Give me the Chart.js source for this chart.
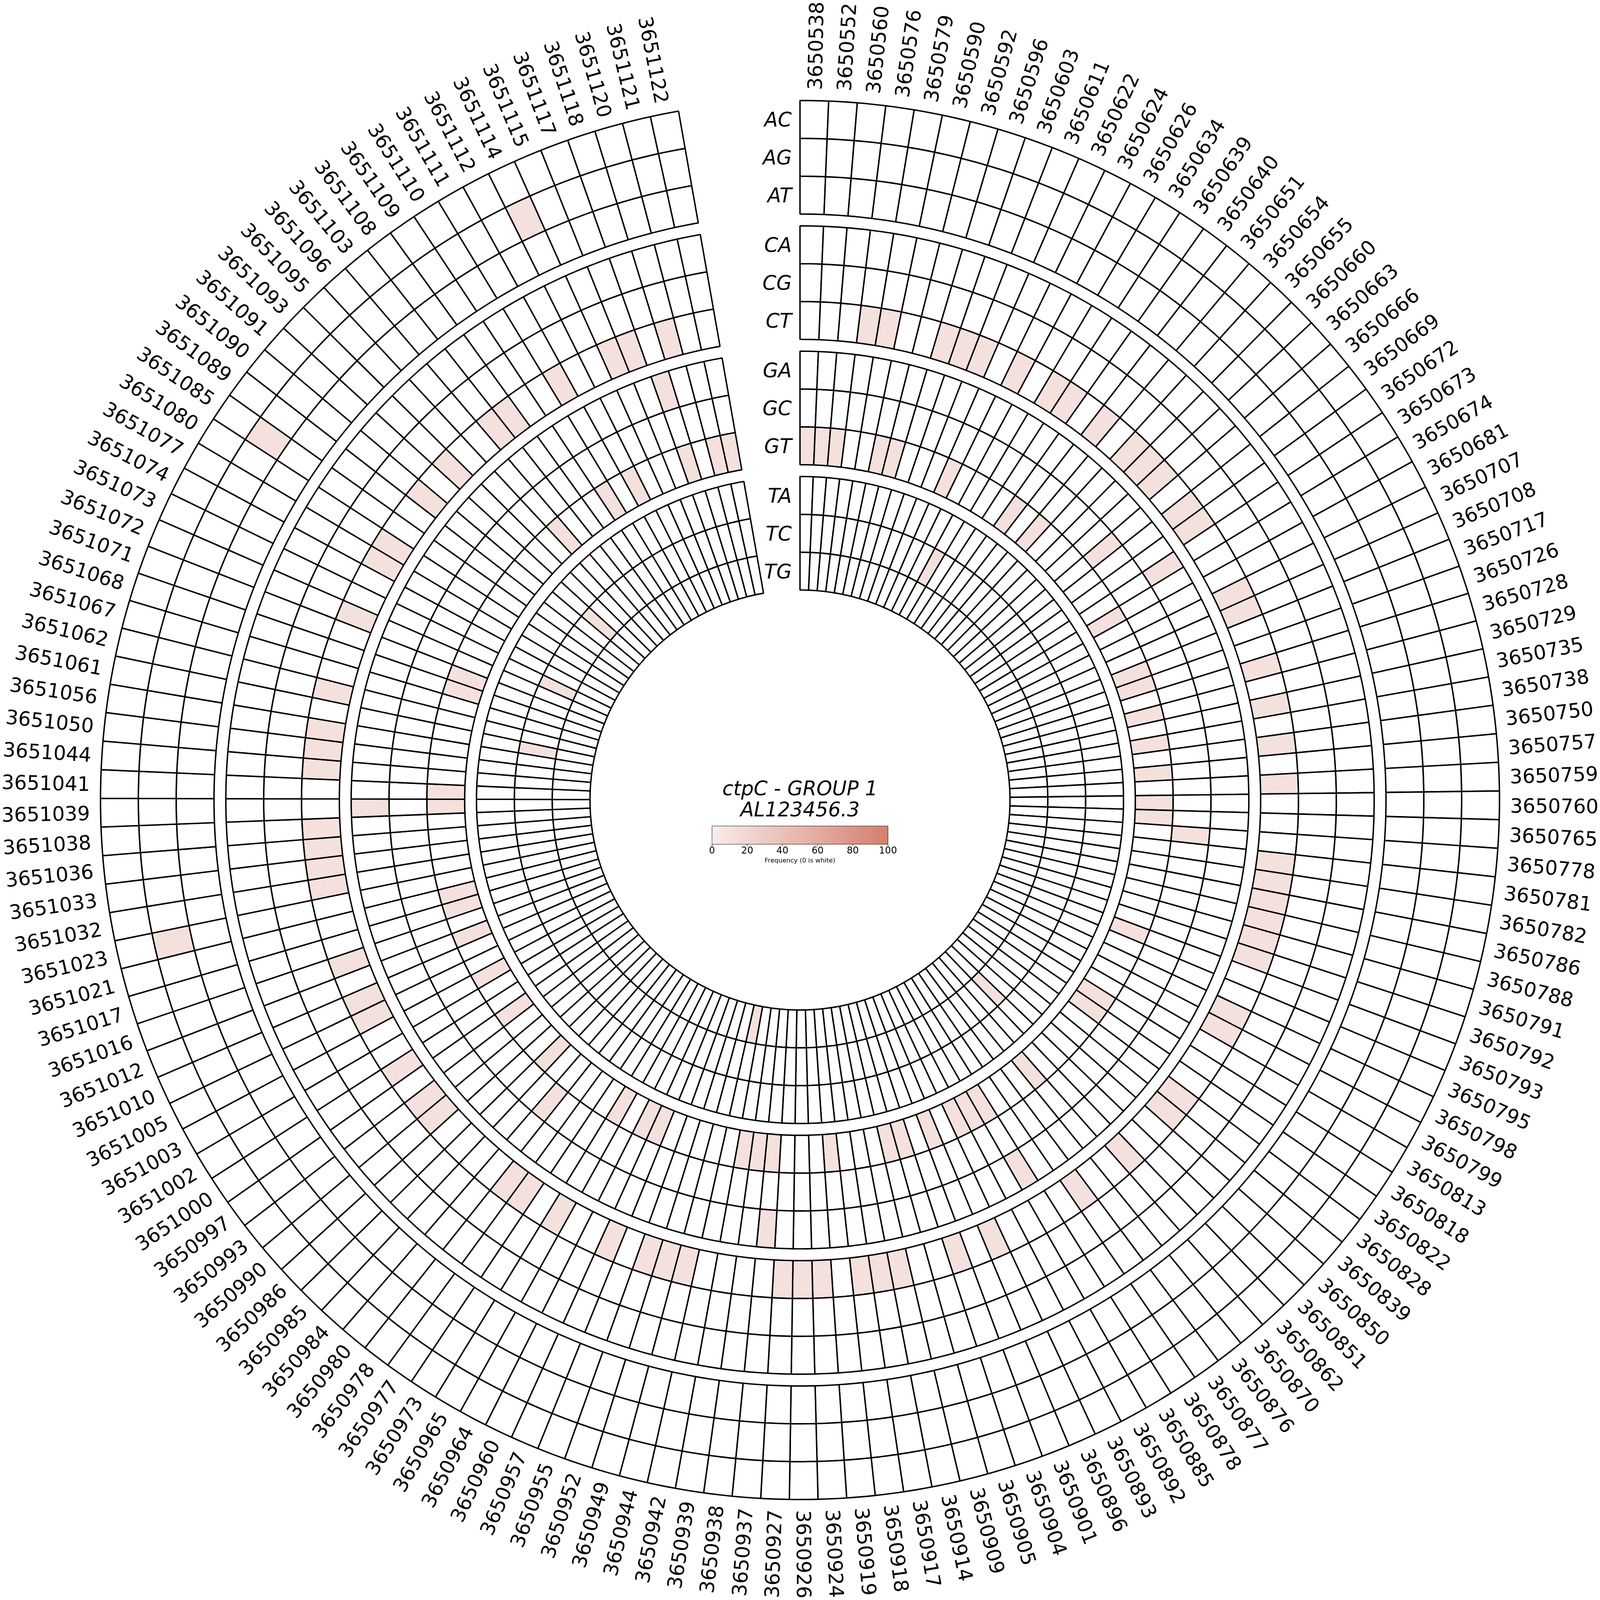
<!DOCTYPE html>
<html><head><meta charset="utf-8">
<script src="https://cdn.jsdelivr.net/npm/chart.js@4.4.1/dist/chart.umd.min.js"></script>
<style>html,body{margin:0;padding:0;background:#fff;overflow:hidden;}canvas{display:block;}</style>
</head><body>
<script>
// ---------------- DATA ----------------
const positions = [
"3650538","3650552","3650560","3650576","3650579","3650590","3650592","3650596","3650603","3650611",
"3650622","3650624","3650626","3650634","3650639","3650640","3650651","3650654","3650655","3650660",
"3650663","3650666","3650669","3650672","3650673","3650674","3650681","3650707","3650708","3650717",
"3650726","3650728","3650729","3650735","3650738","3650750","3650757","3650759","3650760","3650765",
"3650778","3650781","3650782","3650786","3650788","3650791","3650792","3650793","3650795","3650798",
"3650799","3650813","3650818","3650822","3650828","3650839","3650850","3650851","3650862","3650870",
"3650876","3650877","3650878","3650885","3650892","3650893","3650896","3650901","3650904","3650905",
"3650909","3650914","3650917","3650918","3650919","3650924","3650926","3650927","3650937","3650938",
"3650939","3650942","3650944","3650949","3650952","3650955","3650957","3650960","3650964","3650965",
"3650973","3650977","3650978","3650980","3650984","3650985","3650986","3650990","3650993","3650997",
"3651000","3651002","3651003","3651005","3651010","3651012","3651016","3651017","3651021","3651023",
"3651032","3651033","3651036","3651038","3651039","3651041","3651044","3651050","3651056","3651061",
"3651062","3651067","3651068","3651071","3651072","3651073","3651074","3651077","3651080","3651085",
"3651089","3651090","3651091","3651093","3651095","3651096","3651103","3651108","3651109","3651110",
"3651111","3651112","3651114","3651115","3651117","3651118","3651120","3651121","3651122"];

const rowLabels = ["AC","AG","AT","CA","CG","CT","GA","GC","GT","TA","TC","TG"];

// non-zero cells of each row: [position index, frequency %]; every other cell is 0
const hitsAC = [];
const hitsAG = [[109,10],[129,10],[142,10]];
const hitsAT = [];
const hitsCA = [];
const hitsCG = [];
const hitsCT = [[3,10],[4,10],[7,10],[8,10],[9,10],[11,10],[13,10],[14,10],[16,10],[18,10],[19,10],[20,10],
  [22,10],[23,10],[27,10],[28,10],[31,10],[33,10],[35,10],[37,10],[41,10],[42,10],[43,10],[44,10],[45,10],[46,10],
  [49,10],[50,10],[54,10],[55,10],[58,10],[61,10],[66,10],[68,10],[71,10],[72,10],[73,10],
  [75,10],[76,10],[77,10],[82,10],[83,10],[84,10],[86,10],[89,10],[91,10],[92,10],[97,10],[98,10],
  [100,10],[103,10],[104,10],[106,10],[110,10],[111,10],[112,10],[113,10],[116,10],[117,10],[118,10],
  [120,10],[124,10],[127,10],[128,10],[131,10],[133,10],[136,10],[137,10],[140,10],[143,10],[144,10],[146,10]];
const hitsGA = [[24,10],[63,10],[78,10],[114,10],[145,10]];
const hitsGC = [[21,10],[40,10],[93,10]];
const hitsGT = [[0,10],[1,10],[2,10],[5,10],[6,10],[10,10],[15,10],[17,10],[25,10],[29,10],[30,10],
  [32,10],[34,10],[36,10],[38,10],[39,10],[47,10],[52,10],[53,10],[59,10],[63,10],[64,10],[65,10],
  [67,10],[69,10],[70,10],[74,10],[78,10],[79,10],[80,10],[86,10],[87,10],[89,10],[95,10],[99,10],
  [102,10],[105,10],[107,10],[108,10],[114,10],[115,10],[122,10],[123,10],[135,10],[139,10],[141,10],
  [145,10],[147,10],[148,10]];
const hitsTA = [];
const hitsTC = [[12,10],[57,10],[119,10],[125,10],[132,10]];
const hitsTG = [[81,10]];

const colorbarTicks = [0, 20, 40, 60, 80, 100];
const titleLines = ["ctpC - GROUP 1", "AL123456.3"];
const colorbarLabel = "Frequency (0 is white)";

// ---------------- HELPERS ----------------
function toSeries(hits) {
  const s = positions.map(() => 0);
  hits.forEach(([i, v]) => { s[i] = v; });
  return s;
}
const LO = [248, 236, 234], HI = [212, 127, 110];
function cmapRGB(v) {
  const t = Math.max(0, Math.min(1, v / 100));
  return LO.map((c, k) => Math.round(c + (HI[k] - c) * t));
}
function cellColor(v) {
  if (!v) return '#ffffff';
  const c = cmapRGB(v);
  return `rgb(${c[0]},${c[1]},${c[2]})`;
}

const rowSeries = [hitsAC, hitsAG, hitsAT, hitsCA, hitsCG, hitsCT, hitsGA, hitsGC, hitsGT, hitsTA, hitsTC, hitsTG].map(toSeries);

// ---------------- LAYOUT (designed for a 6766 px square, scaled to the viewport) ----------------
const W = window.innerWidth, H = window.innerHeight;
const S = Math.min(W, H) / 6766;
const OUTER_R = 2958 * S, INNER_R = 888 * S, RING_W = 160, GAP_W = 50, SPAN = 350;
const LINE_W = 6 * S;

const canvas = document.createElement('canvas');
canvas.width = W; canvas.height = H;
canvas.style.width = W + 'px'; canvas.style.height = H + 'px';
document.body.appendChild(canvas);

const datasets = [];
rowLabels.forEach((lab, k) => {
  if (k > 0 && k % 3 === 0) {
    datasets.push({ label: 'gap', data: positions.map(() => 1), backgroundColor: 'rgba(0,0,0,0)',
      borderWidth: 0, weight: GAP_W, isGap: true });
  }
  datasets.push({ label: lab, data: positions.map(() => 1), freq: rowSeries[k],
    backgroundColor: rowSeries[k].map(cellColor), borderColor: '#000000',
    borderWidth: LINE_W, weight: RING_W });
});

const FONT = '"DejaVu Sans", "Liberation Sans", sans-serif';

const decorPlugin = {
  id: 'decor',
  afterDraw(chart) {
    const ctx = chart.ctx;
    const meta0 = chart.getDatasetMeta(0);
    const a0 = meta0.data[0];
    const cx = a0.x, cy = a0.y, R = a0.outerRadius;
    ctx.save();
    ctx.fillStyle = '#000';

    // position labels around the outside
    const fs = 84 * S;
    ctx.font = `${fs}px ${FONT}`;
    ctx.textBaseline = 'alphabetic';
    meta0.data.forEach((arc, i) => {
      const a = (arc.startAngle + arc.endAngle) / 2;
      const r = R + 45 * S;
      ctx.save();
      ctx.translate(cx + r * Math.cos(a), cy + r * Math.sin(a));
      if (Math.cos(a) >= 0) { ctx.rotate(a); ctx.textAlign = 'left'; }
      else { ctx.rotate(a + Math.PI); ctx.textAlign = 'right'; }
      ctx.fillText(positions[i], 0, fs * 0.3645);
      ctx.restore();
    });

    // row labels in the gap
    ctx.font = `italic ${fs}px ${FONT}`;
    ctx.textAlign = 'right';
    chart.data.datasets.forEach((ds, di) => {
      if (ds.isGap) return;
      const arc = chart.getDatasetMeta(di).data[0];
      const mid = (arc.outerRadius + arc.innerRadius) / 2;
      ctx.fillText(ds.label, cx - 35 * S, cy - mid + fs * 0.3645);
    });

    // title
    ctx.textAlign = 'center';
    ctx.font = `italic ${84 * S}px ${FONT}`;
    ctx.fillText(titleLines[0], cx, cy - 19 * S);
    ctx.fillText(titleLines[1], cx, cy + 69 * S);

    // colorbar
    const bw = 744 * S, bh = 77 * S, bx = cx - bw / 2, by = cy + 110 * S;
    const g = ctx.createLinearGradient(bx, 0, bx + bw, 0);
    for (let v = 0; v <= 100; v += 10) {
      const c = cmapRGB(v);
      g.addColorStop(v / 100, `rgb(${c[0]},${c[1]},${c[2]})`);
    }
    ctx.fillStyle = g;
    ctx.fillRect(bx, by, bw, bh);
    ctx.strokeStyle = '#000';
    ctx.lineWidth = 1.5 * S;
    ctx.strokeRect(bx, by, bw, bh);
    ctx.fillStyle = '#000';
    ctx.font = `${40 * S}px ${FONT}`;
    ctx.textAlign = 'center';
    colorbarTicks.forEach(t => {
      const x = bx + bw * t / 100;
      ctx.beginPath(); ctx.moveTo(x, by + bh); ctx.lineTo(x, by + bh + 8 * S);
      ctx.lineWidth = 2 * S; ctx.stroke();
      ctx.fillText(String(t), x, cy + 227 * S);
    });
    ctx.font = `${27 * S}px ${FONT}`;
    ctx.fillText(colorbarLabel, cx, cy + 264 * S);
    ctx.restore();
  }
};

new Chart(canvas, {
  type: 'doughnut',
  data: { labels: positions, datasets },
  options: {
    responsive: false, animation: false, events: [],
    rotation: 0, circumference: SPAN,
    radius: OUTER_R, cutout: (INNER_R / OUTER_R * 100) + '%',
    layout: { padding: 0 },
    plugins: { legend: { display: false }, tooltip: { enabled: false }, title: { display: false } }
  },
  plugins: [decorPlugin]
});
</script>
</body></html>
